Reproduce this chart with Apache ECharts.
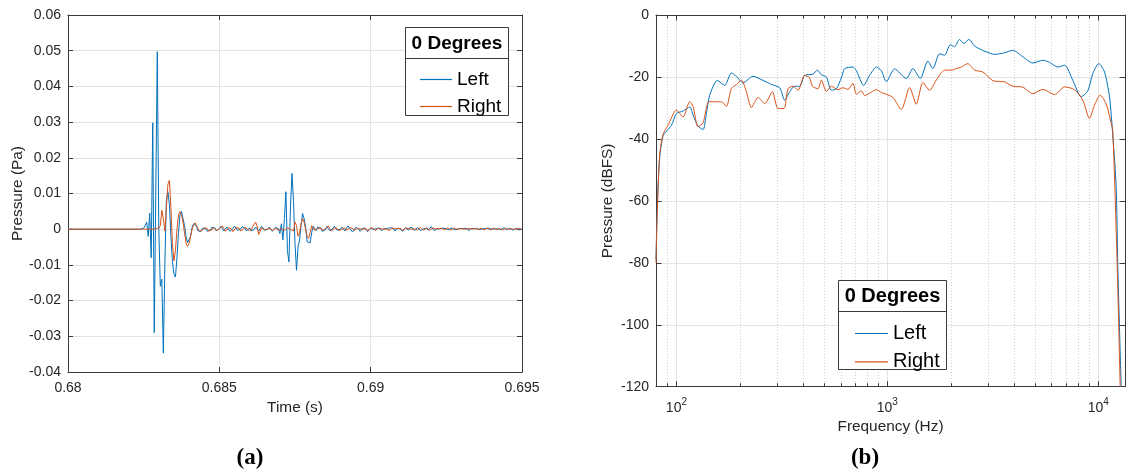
<!DOCTYPE html>
<html>
<head>
<meta charset="utf-8">
<script src="https://cdn.jsdelivr.net/npm/echarts@6/dist/echarts.min.js"></script>
<style>
  html, body { margin: 0; padding: 0; background: #fff; }
  #chart { width: 1126px; height: 470px; }
</style>
</head>
<body>
<div id="chart"></div>
<script>
// ---------- (a) impulse response, time domain ----------
// Silence before the first sample block
const leadInTime = 0.68;
// Sample block: start time and sample spacing (s)
const sampleStart = 0.6824;
const sampleStep = 0.00005;

// Left ear pressure (Pa)
const leftPa = [
  0, 0, 0.0003, 0.001, 0.002, -0.002, 0.0045, -0.008, 0.0298, -0.029,
  0.010, 0.0497, 0.000, -0.016, -0.014, -0.0347, -0.010, 0.008, 0.0105, 0.007,
  -0.002, -0.009, -0.0125, -0.0134, -0.008, -0.001, 0.004, 0.005, 0.0045, 0.001,
  -0.002, -0.0038, -0.004, -0.002, 0.0005, 0.0015, 0.0017, 0.0008, -0.0005, -0.001,
  -0.0006,
  0.0003, 0.0008, 0.0002, -0.0006, -0.0009, -0.0003, 0.0005, 0.0009, 0.0004, -0.0004,
  -0.0007, 0.0001, 0.0008, 0.0003, -0.0005, -0.0002, 0.0006, 0.0004, -0.0006, -0.0008,
  0.0002, 0.0009, 0.0005, -0.0003, -0.0008, 0.0000, 0.0007, 0.0010, 0.0003, -0.0005,
  -0.0002, 0.0004, -0.0004, -0.0009, -0.0001, 0.0006, 0.0003, -0.0005, 0.0002, 0.0008,
  0.0004, -0.0003, -0.0007, 0.0000, 0.0006, 0.0002, -0.0006, -0.0002, 0.0005, 0.0009,
  0.0002, -0.0012, 0.0015,
  -0.003, 0.003, 0.0105, -0.006, -0.0092, 0.006, 0.0156, 0.008, -0.004, -0.0115,
  -0.005, -0.003, 0.001, 0.0044, 0.003, 0.0006, -0.0035, -0.004, -0.0038, -0.001,
  0.0008, 0.0003, -0.0004, 0.0006,
  0.0010, 0.0003, -0.0006, -0.0010, -0.0002, 0.0007, 0.0004, -0.0004, -0.0008, 0.0001,
  0.0008, 0.0005, -0.0003, -0.0007, 0.0000, 0.0006, 0.0002, -0.0005, 0.0003, 0.0009,
  0.0004, -0.0002, -0.0008, -0.0003, 0.0005, 0.0008, 0.0001, -0.0006, -0.0002, 0.0004,
  0.0007, 0.0000, -0.0007, -0.0004, 0.0003, 0.0006, -0.0001, -0.0005, 0.0002, 0.0007,
  0.0003, -0.0004, -0.0006, 0.0001, 0.0005, 0.0002, -0.0003, 0.0004, 0.0008, 0.0002,
  -0.0005, -0.0003, 0.0003, 0.0006, 0.0000, -0.0006, -0.0002, 0.0004, 0.0002, -0.0003,
  0.0005, 0.0009, 0.0003, -0.0004, -0.0002, 0.0005, 0.0003, -0.0004, -0.0006, 0.0001,
  0.0006, 0.0003, -0.0003, 0.0002, 0.0007, 0.0002, -0.0004, -0.0005, 0.0001, 0.0005,
  0.0002, -0.0003, 0.0003, 0.0006, 0.0001, -0.0004, -0.0002, 0.0004, 0.0005, -0.0001,
  -0.0005, 0.0000, 0.0004, 0.0002, -0.0003, 0.0001, 0.0005, 0.0003, -0.0002, -0.0004,
  0.0002, 0.0005, 0.0001, -0.0003, 0.0002, 0.0004, -0.0001, -0.0004, 0.0001, 0.0004,
  0.0002, -0.0002, 0.0003, 0.0005, 0.0000, -0.0003, 0.0001, 0.0004, 0.0001, -0.0003,
  -0.0001, 0.0003, 0.0004, 0.0000, -0.0002, 0.0002, 0.0003, -0.0001, -0.0003, 0.0001,
  0.0003, 0.0001, -0.0002, 0.0001, 0.0000
];

// Right ear pressure (Pa)
const rightPa = [
  0, 0, 0, 0, 0, 0, 0, 0, 0, 0,
  0.0002, -0.0001, 0.0003, 0.0010, 0.0053, 0.0030, -0.0005, 0.0060, 0.0125, 0.0137,
  0.0060, -0.0040, -0.0089, -0.0060, 0.0000, 0.0040, 0.0049, 0.0040, 0.0020, -0.0010,
  -0.0040, -0.0048, -0.0040, -0.0020, 0.0000, 0.0012, 0.0018, 0.0010, 0.0000, -0.0006,
  -0.0004,
  -0.0002, 0.0004, 0.0007, 0.0002, -0.0005, -0.0008, -0.0002, 0.0005, 0.0003, -0.0004,
  -0.0006, 0.0001, 0.0006, 0.0009, 0.0002, -0.0006, -0.0003, 0.0004, 0.0008, 0.0001,
  -0.0007, -0.0004, 0.0005, 0.0010, 0.0003, -0.0005, -0.0009, 0.0000, 0.0006, 0.0004,
  -0.0003, -0.0008, -0.0002, 0.0007, 0.0012, 0.0020, 0.0008, -0.0015, -0.0010, 0.0004,
  0.0006, -0.0002, -0.0006, 0.0001, 0.0005, 0.0002, -0.0004, -0.0001, 0.0003, 0.0000,
  -0.0003, 0.0002, 0.0001,
  0.0002, -0.0003, 0.0001, 0.0004, 0.0000, 0.0000, -0.0005, -0.0005, 0.0020, 0.0010,
  -0.0020, -0.0010, 0.0015, 0.0030, 0.0020, 0.0000, -0.0020, -0.0026, -0.0010, 0.0010,
  0.0006, -0.0003, -0.0008, 0.0002,
  0.0006, 0.0004, -0.0003, -0.0006, 0.0001, 0.0006, 0.0009, 0.0002, -0.0005, -0.0003,
  0.0003, 0.0007, 0.0002, -0.0004, -0.0007, 0.0000, 0.0005, 0.0003, -0.0003, -0.0001,
  0.0004, 0.0008, 0.0003, -0.0004, -0.0006, 0.0002, 0.0006, 0.0001, -0.0004, 0.0000,
  0.0005, 0.0002, -0.0005, -0.0002, 0.0004, 0.0007, 0.0002, -0.0004, -0.0003, 0.0003,
  0.0006, 0.0001, -0.0004, 0.0000, 0.0004, 0.0001, -0.0005, -0.0002, 0.0004, 0.0006,
  0.0001, -0.0003, 0.0002, 0.0005, 0.0002, -0.0004, -0.0001, 0.0003, 0.0006, 0.0002,
  -0.0003, 0.0000, 0.0004, 0.0001, -0.0004, -0.0002, 0.0003, 0.0005, 0.0000, -0.0003,
  0.0002, 0.0004, 0.0001, -0.0003, -0.0001, 0.0003, 0.0005, 0.0001, -0.0002, 0.0001,
  0.0004, 0.0002, -0.0003, -0.0002, 0.0003, 0.0004, 0.0000, -0.0003, 0.0001, 0.0004,
  0.0003, -0.0001, -0.0003, 0.0002, 0.0004, 0.0001, -0.0002, 0.0000, 0.0003, 0.0002,
  -0.0002, 0.0001, 0.0004, 0.0002, -0.0002, -0.0001, 0.0002, 0.0003, 0.0000, -0.0002,
  0.0001, 0.0003, 0.0001, -0.0002, 0.0000, 0.0003, 0.0002, -0.0001, 0.0001, 0.0002,
  0.0000, -0.0002, 0.0002, 0.0003, 0.0001, -0.0001, 0.0001, 0.0002, 0.0000, -0.0001,
  0.0001, 0.0002, 0.0000, 0.0001, 0.0000
];

const timeTicks = [0.68, 0.685, 0.69, 0.695];
const pressureTicks = [-0.04, 0.06, 0.01]; // min, max, step

// ---------- (b) magnitude spectrum ----------
const leftFreqHz = [80, 81.1, 83.3, 86.4, 89.7, 94.7, 100, 107.5, 115.6, 119.9,
  126.6, 133.7, 138.7, 143.8, 156.4, 169.4, 182.2, 192.4, 206.9, 230.7,
  257.3, 282, 308.8, 326.1, 344.4, 363.7, 384, 405.5, 444.1, 465.9,
  486.7, 514, 542.8, 573.3, 605.4, 627.6, 687.1, 713.1, 772.4, 824.5,
  887.1, 936.8, 989.2, 1083, 1230, 1322, 1433, 1557, 1645, 1770,
  1869, 1989, 2084, 2201, 2307, 2436, 2593, 2790, 2946, 3225,
  3597, 3938, 4393, 4898, 5463, 5878, 6435, 6925, 7580, 8308,
  8926, 9428, 10065, 10713, 11314, 11728, 12170, 12385, 12853];
const leftDbfs = [-79, -62, -46, -39, -37.5, -35.6, -31.8, -31, -29.7, -32.3,
  -35.9, -37, -31.8, -25.9, -21.1, -22.7, -18.7, -19.8, -21.9, -19.8,
  -21.1, -22.4, -23.5, -27.5, -24.8, -23, -23, -19.5, -19.1, -17.8,
  -19.3, -20, -24.3, -23.8, -20.3, -17.3, -16.8, -18, -22.7, -19.5,
  -16.8, -18, -21.5, -17.4, -20.5, -17.3, -20.5, -14.9, -17.3, -12.5,
  -13, -9.6, -10.2, -7.9, -9.2, -7.9, -10, -11.2, -11.9, -12.7,
  -12.2, -11.4, -13.5, -15.5, -14.6, -15.3, -16.8, -16.2, -21.1, -26.4,
  -24.5, -18.9, -15.7, -18.4, -26.4, -39, -55.5, -81, -120];

const rightFreqHz = [80, 81.1, 83.3, 86.4, 91.2, 100, 107.5, 115.6, 119.9, 126.6,
  133.7, 142.7, 154.7, 163.5, 172.6, 182.2, 192.4, 203.3, 214.7, 226.7,
  243.6, 262.1, 285.1, 303.1, 323.6, 338.1, 357.1, 377.1, 405.5, 428.4,
  441.1, 469, 486.7, 514, 542.8, 583.4, 616.1, 650.6, 687.1, 713.1,
  753.1, 780.8, 839.9, 887.1, 936.8, 989.2, 1063, 1165, 1276, 1372,
  1475, 1587, 1707, 1869, 2011, 2123, 2243, 2410, 2593, 2839,
  3167, 3597, 3938, 4393, 4898, 5463, 6208, 6925, 7722, 8451,
  9095, 9605, 10221, 10911, 11526, 11728, 12251, 12715];
const rightDbfs = [-80, -64, -45, -38.5, -35.6, -30.7, -32.9, -28, -29.5, -36.1,
  -34.8, -28, -28, -28, -29.5, -23.7, -22.5, -21, -24.8, -29.9,
  -26.6, -28.6, -24.8, -30.2, -30.2, -23.8, -23, -24.3, -19.5, -20.3,
  -23, -23.8, -21, -24.7, -23, -24.1, -23.5, -24, -22.1, -25.6,
  -24.5, -26, -24.9, -24.1, -25, -25.6, -26.6, -30.5, -23.4, -28.8,
  -21.8, -24.3, -21, -17.8, -17.8, -17.3, -16.8, -15.7, -17.8, -18.4,
  -21.2, -21.6, -23, -23.3, -25.4, -24, -25.7, -23.2, -24.1, -27.5,
  -33.4, -29.1, -25.9, -28.7, -35, -37.2, -76, -120];

const freqRange = [80, 13400];
const dbfsTicks = [-120, 0, 20]; // min, max, step
const minorGridHz = [90, 200, 300, 400, 500, 600, 700, 800, 900,
  2000, 3000, 4000, 5000, 6000, 7000, 8000, 9000];

const seriesNames = ['Left', 'Right'];
const legendTitle = '0 Degrees';
const panelLabels = ['(a)', '(b)'];

// ---------- styling ----------
const SANS = '"Liberation Sans", Arial, Helvetica, sans-serif';
const SERIF = '"Liberation Serif", "DejaVu Serif", serif';
const BLUE = '#0072BD';
const ORANGE = '#D95319';
const AXIS = '#3a3a3a';
const TEXT = '#262626';
const GRID = '#e4e4e4';

const sampled = (vals) => [[leadInTime, 0]].concat(
  vals.map((v, i) => [sampleStart + i * sampleStep, v]));
const paired = (xs, ys) => xs.map((x, i) => [x, ys[i]]);
const trim = (v, d) => String(+v.toFixed(d));

function boxAxis(base, extra) { return Object.assign({}, base, extra); }

const timeAxisBase = {
  type: 'value', gridIndex: 0,
  min: timeTicks[0], max: timeTicks[timeTicks.length - 1], interval: 0.005,
  axisLine: { show: true, onZero: false, lineStyle: { color: AXIS, width: 1 } },
  axisTick: { show: true, inside: true, length: 5, lineStyle: { color: AXIS } }
};
const paAxisBase = {
  type: 'value', gridIndex: 0,
  min: pressureTicks[0], max: pressureTicks[1], interval: pressureTicks[2],
  axisLine: { show: true, onZero: false, lineStyle: { color: AXIS, width: 1 } },
  axisTick: { show: true, inside: true, length: 5, lineStyle: { color: AXIS } }
};
const freqAxisBase = {
  type: 'log', logBase: 10, gridIndex: 1,
  min: freqRange[0], max: freqRange[1],
  axisLine: { show: true, onZero: false, lineStyle: { color: AXIS, width: 1 } },
  axisTick: { show: true, inside: true, length: 5.5, lineStyle: { color: AXIS } }
};
const dbAxisBase = {
  type: 'value', gridIndex: 1,
  min: dbfsTicks[0], max: dbfsTicks[1], interval: dbfsTicks[2],
  axisLine: { show: true, onZero: false, lineStyle: { color: AXIS, width: 1 } },
  axisTick: { show: true, inside: true, length: 5.5, lineStyle: { color: AXIS } }
};

const labelStyle = { color: TEXT, fontFamily: SANS, fontSize: 14 };
const nameStyle = { color: TEXT, fontFamily: SANS, fontSize: 15.4 };

const option = {
  animation: false,
  backgroundColor: '#fff',
  grid: [
    { left: 68, right: 604, top: 15, bottom: 98 },
    { left: 656, right: 1, top: 15, bottom: 83.3 }
  ],
  xAxis: [
    boxAxis(timeAxisBase, {
      position: 'bottom',
      name: 'Time (s)', nameLocation: 'middle', nameGap: 27, nameTextStyle: nameStyle,
      axisLabel: Object.assign({ margin: 9, formatter: (v) => trim(v, 4) }, labelStyle),
      splitLine: { show: true, lineStyle: { color: GRID, width: 1 } }
    }),
    boxAxis(timeAxisBase, { position: 'top', axisLabel: { show: false }, splitLine: { show: false } }),
    boxAxis(freqAxisBase, {
      position: 'bottom',
      name: 'Frequency (Hz)', nameLocation: 'middle', nameGap: 32, nameTextStyle: nameStyle,
      axisLabel: {
        margin: 11,
        showMinLabel: false, showMaxLabel: false,
        formatter: (v) => {
          const e = Math.log10(v);
          if (Math.abs(e - Math.round(e)) > 1e-6) return '';
          return '{b|10}{s|' + Math.round(e) + '}';
        },
        rich: {
          b: { color: TEXT, fontFamily: SANS, fontSize: 14, verticalAlign: 'bottom' },
          s: { color: TEXT, fontFamily: SANS, fontSize: 10, verticalAlign: 'bottom', padding: [0, 0, 7, 0] }
        }
      },
      splitLine: { show: true, lineStyle: { color: GRID, width: 1 } }
    }),
    boxAxis(freqAxisBase, { position: 'top', axisLabel: { show: false }, splitLine: { show: false } })
  ],
  yAxis: [
    boxAxis(paAxisBase, {
      position: 'left',
      name: 'Pressure (Pa)', nameLocation: 'middle', nameGap: 42, nameTextStyle: nameStyle,
      axisLabel: Object.assign({ margin: 7, formatter: (v) => trim(v, 3) }, labelStyle),
      splitLine: { show: true, lineStyle: { color: GRID, width: 1 } }
    }),
    boxAxis(paAxisBase, { position: 'right', axisLabel: { show: false }, splitLine: { show: false } }),
    boxAxis(dbAxisBase, {
      position: 'left',
      name: 'Pressure (dBFS)', nameLocation: 'middle', nameGap: 41, nameTextStyle: nameStyle,
      axisLabel: Object.assign({ margin: 7, formatter: (v) => trim(v, 0) }, labelStyle),
      splitLine: { show: true, lineStyle: { color: GRID, width: 1 } }
    }),
    boxAxis(dbAxisBase, { position: 'right', axisLabel: { show: false }, splitLine: { show: false } })
  ],
  legend: [
    {
      left: 415, top: 65, orient: 'vertical', icon: 'rect',
      itemWidth: 32, itemHeight: 1.2, itemGap: 8, selectedMode: false, z: 20,
      data: seriesNames,
      textStyle: { color: '#000', fontFamily: SANS, fontSize: 19, lineHeight: 18 }
    },
    {
      left: 850, top: 318.5, orient: 'vertical', icon: 'rect',
      itemWidth: 33, itemHeight: 1.2, itemGap: 8.3, selectedMode: false, z: 20,
      data: seriesNames,
      textStyle: { color: '#000', fontFamily: SANS, fontSize: 20, lineHeight: 19 }
    }
  ],
  series: [
    {
      name: seriesNames[0], type: 'line', xAxisIndex: 0, yAxisIndex: 0,
      data: sampled(leftPa), showSymbol: false, symbol: 'none',
      lineStyle: { color: BLUE, width: 1 }, itemStyle: { color: BLUE }, z: 3
    },
    {
      name: seriesNames[1], type: 'line', xAxisIndex: 0, yAxisIndex: 0,
      data: sampled(rightPa), showSymbol: false, symbol: 'none',
      lineStyle: { color: ORANGE, width: 1 }, itemStyle: { color: ORANGE }, z: 4
    },
    {
      type: 'custom', xAxisIndex: 2, yAxisIndex: 2, silent: true, z: 1,
      data: minorGridHz.map((f) => [f, dbfsTicks[1]]),
      renderItem: (params, api) => {
        const f = api.value(0);
        const top = api.coord([f, dbfsTicks[1]]);
        const bot = api.coord([f, dbfsTicks[0]]);
        const x = Math.round(top[0]) + 0.5;
        return {
          type: 'group',
          children: [
            { type: 'line', shape: { x1: x, y1: top[1], x2: x, y2: bot[1] },
              style: { stroke: '#cfcfcf', lineWidth: 1, lineDash: [1, 2] } },
            { type: 'line', shape: { x1: x, y1: top[1], x2: x, y2: top[1] + 3.5 },
              style: { stroke: AXIS, lineWidth: 1 } },
            { type: 'line', shape: { x1: x, y1: bot[1], x2: x, y2: bot[1] - 3.5 },
              style: { stroke: AXIS, lineWidth: 1 } }
          ]
        };
      }
    },
    {
      name: seriesNames[0], type: 'line', xAxisIndex: 2, yAxisIndex: 2,
      data: paired(leftFreqHz, leftDbfs), showSymbol: false, symbol: 'none', smooth: 0.25,
      lineStyle: { color: BLUE, width: 1 }, itemStyle: { color: BLUE }, z: 3
    },
    {
      name: seriesNames[1], type: 'line', xAxisIndex: 2, yAxisIndex: 2,
      data: paired(rightFreqHz, rightDbfs), showSymbol: false, symbol: 'none', smooth: 0.25,
      lineStyle: { color: ORANGE, width: 1 }, itemStyle: { color: ORANGE }, z: 4
    }
  ],
  graphic: [
    // legend frames with the heading row
    { type: 'rect', z: 10, shape: { x: 405.5, y: 27.5, width: 103, height: 88 },
      style: { fill: '#fff', stroke: AXIS, lineWidth: 1 } },
    { type: 'line', z: 11, shape: { x1: 405.5, y1: 58.5, x2: 508.5, y2: 58.5 },
      style: { stroke: AXIS, lineWidth: 1 } },
    { type: 'text', z: 12, x: 457, y: 43.5,
      style: { text: legendTitle, fill: '#000', font: 'bold 19px ' + SANS, textAlign: 'center', textVerticalAlign: 'middle' } },
    { type: 'rect', z: 10, shape: { x: 838.5, y: 280.5, width: 108, height: 89 },
      style: { fill: '#fff', stroke: AXIS, lineWidth: 1 } },
    { type: 'line', z: 11, shape: { x1: 838.5, y1: 311.5, x2: 946.5, y2: 311.5 },
      style: { stroke: AXIS, lineWidth: 1 } },
    { type: 'text', z: 12, x: 892.5, y: 296,
      style: { text: legendTitle, fill: '#000', font: 'bold 20px ' + SANS, textAlign: 'center', textVerticalAlign: 'middle' } },
    // panel captions
    { type: 'text', x: 250, y: 458,
      style: { text: panelLabels[0], fill: '#000', font: 'bold 23px ' + SERIF, textAlign: 'center', textVerticalAlign: 'middle' } },
    { type: 'text', x: 865, y: 458,
      style: { text: panelLabels[1], fill: '#000', font: 'bold 23px ' + SERIF, textAlign: 'center', textVerticalAlign: 'middle' } }
  ]
};

const chart = echarts.init(document.getElementById('chart'), null, { renderer: 'canvas' });
chart.setOption(option);
</script>
</body>
</html>
